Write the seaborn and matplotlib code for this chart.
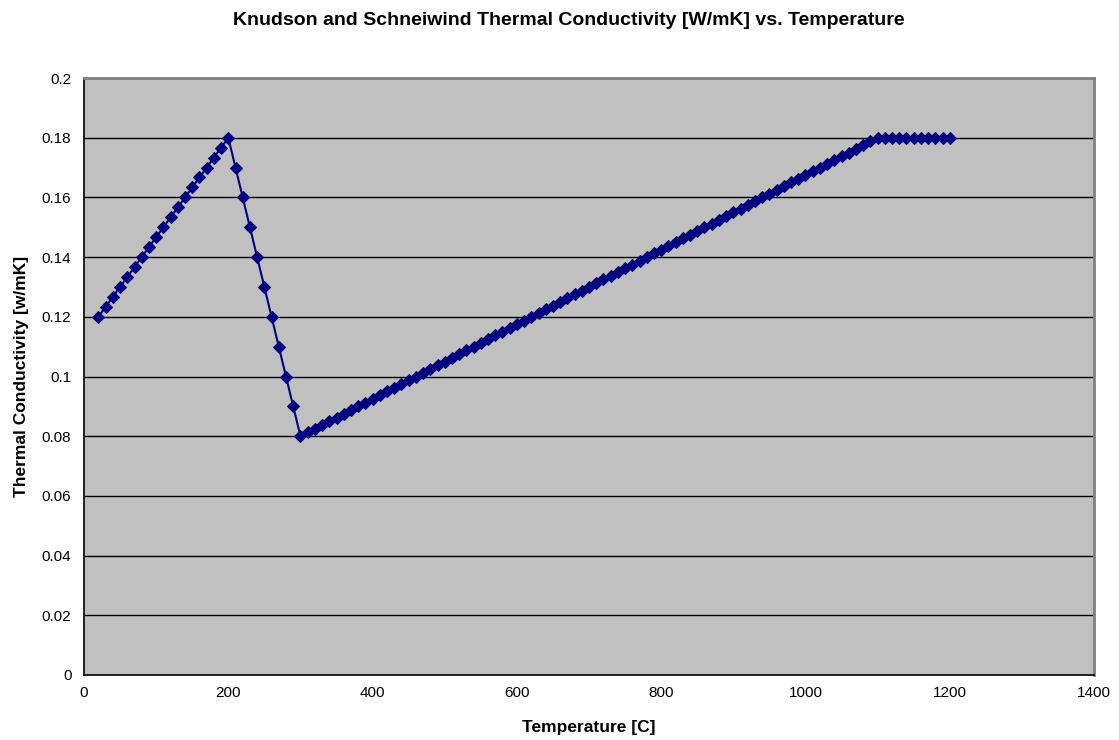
import matplotlib
matplotlib.use("Agg")
import matplotlib.pyplot as plt
import seaborn as sns
import pandas as pd

temperature = [20, 30, 40, 50, 60, 70, 80, 90, 100, 110, 120, 130, 140, 150, 160, 170, 180, 190, 200,
               210, 220, 230, 240, 250, 260, 270, 280, 290, 300,
               310, 320, 330, 340, 350, 360, 370, 380, 390, 400,
               410, 420, 430, 440, 450, 460, 470, 480, 490, 500,
               510, 520, 530, 540, 550, 560, 570, 580, 590, 600,
               610, 620, 630, 640, 650, 660, 670, 680, 690, 700,
               710, 720, 730, 740, 750, 760, 770, 780, 790, 800,
               810, 820, 830, 840, 850, 860, 870, 880, 890, 900,
               910, 920, 930, 940, 950, 960, 970, 980, 990, 1000,
               1010, 1020, 1030, 1040, 1050, 1060, 1070, 1080, 1090, 1100,
               1110, 1120, 1130, 1140, 1150, 1160, 1170, 1180, 1190, 1200]

conductivity = [0.12, 0.12333, 0.12667, 0.13, 0.13333, 0.13667, 0.14, 0.14333, 0.14667, 0.15,
                0.15333, 0.15667, 0.16, 0.16333, 0.16667, 0.17, 0.17333, 0.17667, 0.18,
                0.17, 0.16, 0.15, 0.14, 0.13, 0.12, 0.11, 0.10, 0.09, 0.08,
                0.08125, 0.0825, 0.08375, 0.085, 0.08625, 0.0875, 0.08875, 0.09,
                0.09125, 0.0925, 0.09375, 0.095, 0.09625, 0.0975, 0.09875, 0.1,
                0.10125, 0.1025, 0.10375, 0.105, 0.10625, 0.1075, 0.10875, 0.11,
                0.11125, 0.1125, 0.11375, 0.115, 0.11625, 0.1175, 0.11875, 0.12,
                0.12125, 0.1225, 0.12375, 0.125, 0.12625, 0.1275, 0.12875, 0.13,
                0.13125, 0.1325, 0.13375, 0.135, 0.13625, 0.1375, 0.13875, 0.14,
                0.14125, 0.1425, 0.14375, 0.145, 0.14625, 0.1475, 0.14875, 0.15,
                0.15125, 0.1525, 0.15375, 0.155, 0.15625, 0.1575, 0.15875, 0.16,
                0.16125, 0.1625, 0.16375, 0.165, 0.16625, 0.1675, 0.16875, 0.17,
                0.17125, 0.1725, 0.17375, 0.175, 0.17625, 0.1775, 0.17875, 0.18,
                0.18, 0.18, 0.18, 0.18, 0.18, 0.18, 0.18, 0.18, 0.18, 0.18]

x_ticks = [0, 200, 400, 600, 800, 1000, 1200, 1400]
y_ticks = [0, 0.02, 0.04, 0.06, 0.08, 0.1, 0.12, 0.14, 0.16, 0.18, 0.2]
y_tick_labels = ["0", "0.02", "0.04", "0.06", "0.08", "0.1", "0.12", "0.14", "0.16", "0.18", "0.2"]

df = pd.DataFrame({"Temperature": temperature, "Conductivity": conductivity})

sns.set_style("white")
plt.rcParams["font.family"] = ["Liberation Sans", "DejaVu Sans"]
plt.rcParams["text.color"] = "black"
plt.rcParams["axes.labelcolor"] = "black"

fig = plt.figure(figsize=(11.19, 7.40), dpi=100)
ax = fig.add_axes([84 / 1119, 1 - 675 / 740, (1094 - 84) / 1119, (675 - 78) / 740])
ax.set_facecolor("#C0C0C0")

for y in y_ticks[1:-1]:
    ax.axhline(y, color="black", linewidth=1.0, zorder=1)

sns.lineplot(data=df, x="Temperature", y="Conductivity", ax=ax, color="#000080",
             marker="D", markersize=6, markeredgecolor="#000080", linewidth=1.5, zorder=3)

ax.set_xlim(0, 1400)
ax.set_ylim(0, 0.2)
ax.set_xticks(x_ticks)
ax.set_xticklabels([str(t) for t in x_ticks])
ax.set_yticks(y_ticks)
ax.set_yticklabels(y_tick_labels)
ax.tick_params(axis="both", direction="out", length=5, width=1, color="black",
               labelsize=11, labelcolor="black")
ax.tick_params(axis="x", pad=3)
ax.tick_params(axis="y", pad=4)

for side in ["left", "bottom"]:
    ax.spines[side].set_color("black")
    ax.spines[side].set_linewidth(1.2)
for side in ["top", "right"]:
    ax.spines[side].set_color("#808080")
    ax.spines[side].set_linewidth(2)

ax.set_xlabel("Temperature [C]", fontsize=12.5, fontweight="bold", labelpad=14, color="black")
ax.set_ylabel("Thermal Conductivity [w/mK]", fontsize=12.5, fontweight="bold", labelpad=9, color="black")
fig.suptitle("Knudson and Schneiwind Thermal Conductivity [W/mK] vs. Temperature",
             fontsize=14, fontweight="bold", x=0.508, y=0.984, color="black")

fig.savefig("out.png", dpi=100)
